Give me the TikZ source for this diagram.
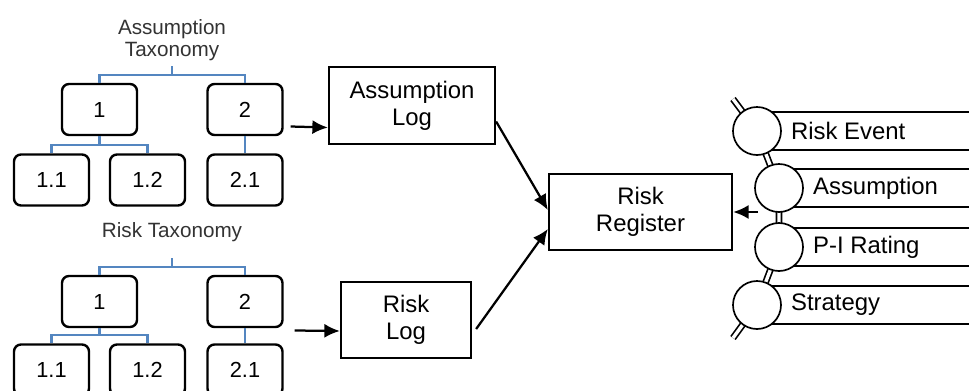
\documentclass[tikz,border=0pt]{standalone}
\usepackage{fontspec}
\setmainfont{Liberation Sans}
\usepackage{xcolor}
\usepackage{tikz}
\usetikzlibrary{shapes, arrows.meta, positioning}
\definecolor{taxblue}{RGB}{84,134,192}

\tikzset{
  tbox/.style={draw, rounded corners=5pt, line width=1.7pt, minimum width=1.875cm, minimum height=1.275cm, inner sep=0pt, font=\fontsize{15.5}{18}\selectfont},
  tline/.style={draw=taxblue, line width=1.6pt},
  lbox/.style={draw, line width=1.6pt, align=center, inner sep=0pt, font=\fontsize{17}{19}\selectfont},
  arr/.style={line width=1.6pt, -{Latex[length=11pt,width=10pt]}},
  ring/.style={circle, draw, line width=1.2pt, fill=white, minimum size=1.2cm, inner sep=0pt},
  band/.style={draw, line width=1.6pt, fill=white, minimum height=0.95cm, minimum width=6cm, anchor=west, inner sep=0pt},
  rod/.style={line width=1.2pt, double=white, double distance=2.4pt},
  btxt/.style={anchor=west, inner sep=0pt, font=\fontsize{17}{19}\selectfont},
  ttl/.style={align=center, text=black!80, font=\fontsize{14.7}{16}\selectfont}
}

\begin{document}
\begin{tikzpicture}[x=0.025cm, y=-0.025cm]
        \fill[white] (0,0) rectangle (969,390);
        \clip (0,0) rectangle (969,390);
        % Assumption taxonomy
        \node[ttl] (atax) at (172,40) {Assumption\\Taxonomy};
        \node[tbox] (a1) at (99.5,109.5) {1};
        \node[tbox] (a2) at (245,109.5) {2};
        \node[tbox] (a11) at (51.5,180) {1.1};
        \node[tbox] (a12) at (147.5,180) {1.2};
        \node[tbox] (a21) at (245,180) {2.1};
        \coordinate (atop) at (172,75);
        \coordinate (amid) at (99.5,145);
        \draw[tline] (atop) -- ++(0,-9);
        \draw[tline] (a1.north) |- (atop) -| (a2.north);
        \draw[tline] (a1.south) -- (amid);
        \draw[tline] (a11.north) |- (amid) -| (a12.north);
        \draw[tline] (a2.south) -- (a21.north);
        % Risk taxonomy
        \node[ttl] (rtax) at (172,232) {Risk Taxonomy};
        \node[tbox] (b1) at (99.5,301.5) {1};
        \node[tbox] (b2) at (245,301.5) {2};
        \node[tbox] (b11) at (51.5,370) {1.1};
        \node[tbox] (b12) at (147.5,370) {1.2};
        \node[tbox] (b21) at (245,370) {2.1};
        \coordinate (btop) at (172,267);
        \coordinate (bmid) at (99.5,335);
        \draw[tline] (btop) -- ++(0,-9);
        \draw[tline] (b1.north) |- (btop) -| (b2.north);
        \draw[tline] (b1.south) -- (bmid);
        \draw[tline] (b11.north) |- (bmid) -| (b12.north);
        \draw[tline] (b2.south) -- (b21.north);
        % Logs and register
        \node[lbox, minimum width=4.15cm, minimum height=1.925cm] (alog) at (412,105.5) {Assumption\\Log};
        \node[lbox, minimum width=3.25cm, minimum height=1.9cm] (rlog) at (406,320) {Risk\\Log};
        \node[lbox, minimum width=4.575cm, minimum height=1.9cm] (reg) at (640.5,212) {Risk\\Register};
        \draw[arr] ([shift={(7,17)}]a2.east) -- ([shift={(0,22)}]alog.west);
        \draw[arr] ([shift={(11,29)}]b2.east) -- ([shift={(0,11)}]rlog.west);
        \draw[arr] ([shift={(0,16)}]alog.east) -- ([shift={(0,-2)}]reg.west);
        \draw[arr] ([shift={(4,9)}]rlog.east) -- ([shift={(0,17)}]reg.west);
        % Chain
        \coordinate (ctop) at (733,99);
        \coordinate (cbot) at (733,338);
        \coordinate (c1p) at (757,131);
        \coordinate (c2p) at (779,188);
        \coordinate (c3p) at (779,247);
        \coordinate (c4p) at (757,305);
        \draw[rod] (ctop) -- (c1p) -- (c2p) -- (c3p) -- (c4p) -- (cbot);
        \node[band] (e1) at (c1p) {};
        \node[band] (e2) at (c2p) {};
        \node[band] (e3) at (c3p) {};
        \node[band] (e4) at (c4p) {};
        \node[ring] (c1) at (c1p) {};
        \node[ring] (c2) at (c2p) {};
        \node[ring] (c3) at (c3p) {};
        \node[ring] (c4) at (c4p) {};
        \node[btxt, right=0.225cm of c1] (t1) {Risk Event};
        \node[btxt, right=0.225cm of c2] (t2) {Assumption};
        \node[btxt, right=0.225cm of c3] (t3) {P-I Rating};
        \node[btxt, right=0.225cm of c4] (t4) {Strategy};
        \coordinate (chin) at (758,212);
        \draw[arr] (chin) -- (reg.east);
    \end{tikzpicture}
\end{document}
